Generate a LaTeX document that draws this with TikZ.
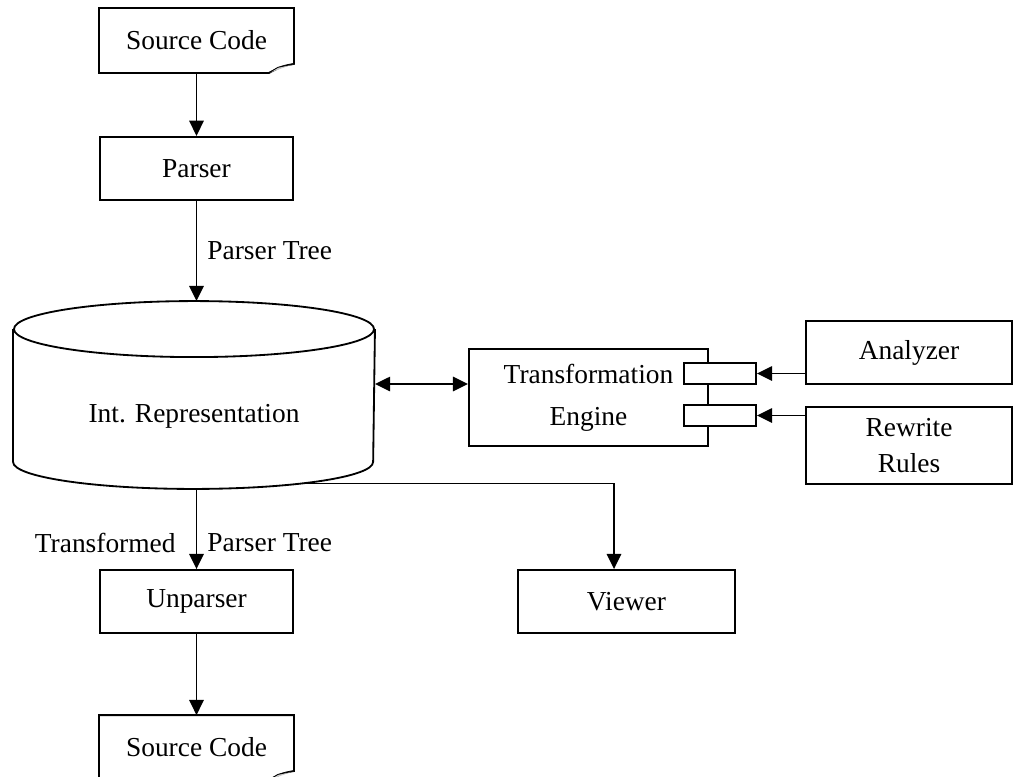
\documentclass[tikz,border=0pt]{standalone}
\usepackage{fontspec}
\setmainfont{Liberation Serif}
\usetikzlibrary{arrows.meta,positioning}

\begin{document}
\begin{tikzpicture}[x=0.025cm,y=-0.025cm,line width=1.3pt,
>={Triangle[length=0.38cm,width=0.36cm]},
every node/.style={font=\fontsize{19.5}{30}\selectfont},
box/.style={rectangle,draw,minimum width=4.825cm,minimum height=1.575cm,inner sep=0pt},
doc/.style={rectangle,minimum width=4.825cm,minimum height=1.575cm,inner sep=0pt},
port/.style={rectangle,draw,fill=white,minimum width=1.8cm,minimum height=0.525cm,inner sep=0pt},
lblr/.style={anchor=west,inner sep=0pt,xshift=0.25cm},
lbll/.style={anchor=east,inner sep=0pt,xshift=-0.5cm}]
 \useasboundingbox (0,0) rectangle (1016,776);
 % input side
 \node[doc] (srcin) at (196.5,40.5) {Source Code};
 \node[box,below=1.575cm of srcin] (parser) {Parser};
 \draw[->] (srcin.south) -- (parser.north);
 \node[minimum width=9cm,minimum height=4.65cm,inner sep=0pt] (irep) at (194,395) {};
 \node (ireptext) at (194,416) {Int. Representation};
 \draw ([yshift=-0.7cm]irep.north) ellipse [x radius=4.5cm,y radius=0.7cm];
 \draw ([yshift=-0.7cm]irep.north west) -- ([yshift=0.675cm]irep.south west)
 arc[start angle=180,end angle=360,x radius=4.5cm,y radius=0.675cm]
 -- ([yshift=-0.7cm]irep.north east);
 \draw[->] (parser.south) -- node[midway,lblr] (ptreein) {Parser Tree}
 (parser.south |- irep.north);
 % transformation engine
 \node[draw,minimum width=5.975cm,minimum height=2.425cm,align=center] (engine)
 at (588.5,397.5) {Transformation\\Engine};
 \node[port] (port1) at (720,373.5) {};
 \node[port] (port2) at (720,415.5) {};
 \node[box,minimum width=5.15cm] (analyzer) at (909,352.5) {Analyzer};
 \node[box,minimum width=5.15cm,minimum height=1.925cm,align=center,
 font=\fontsize{19.5}{26}\selectfont,below=0.525cm of analyzer] (rules) {Rewrite\\Rules};
 \coordinate (engin) at ([yshift=0.3375cm]engine.west);
 \draw[<->] (engin -| irep.east) -- (engin);
 \draw[->] (analyzer.west |- port1) -- (port1.east);
 \draw[->] (rules.west |- port2) -- (port2.east);
 % output side
 \node[box] (unparser) at (196.5,601.5) {Unparser};
 \node[box,minimum width=5.425cm] (viewer) at (626.5,601.5) {Viewer};
 \node[doc,below=2.03cm of unparser] (srcout) {Source Code};
 \draw[->] (unparser.north |- irep.south) --
 node[pos=0.67,lblr] (ptreeout) {Parser Tree}
 node[pos=0.67,lbll] (transf) {Transformed} (unparser.north);
 \draw[->] (unparser.south) -- (srcout.north);
 \coordinate (ireptap) at ([xshift=2.7cm,yshift=0.135cm]irep.south);
 \draw[->] (ireptap) -| ([xshift=-0.3125cm]viewer.north);
 % folded corners
 \foreach \d in {srcin,srcout}{
  \draw (\d.north west) -- (\d.north east) -- ([yshift=0.225cm]\d.south east)
  .. controls ([xshift=-0.3cm,yshift=0.17cm]\d.south east) .. ([xshift=-0.625cm]\d.south east)
  -- (\d.south west) -- cycle;
  \filldraw[fill=gray!40,line width=0.6pt] ([xshift=-0.625cm]\d.south east)
  -- ([xshift=-0.4cm,yshift=0.14cm]\d.south east) -- ([yshift=0.225cm]\d.south east);
 }
\end{tikzpicture}
\end{document}
